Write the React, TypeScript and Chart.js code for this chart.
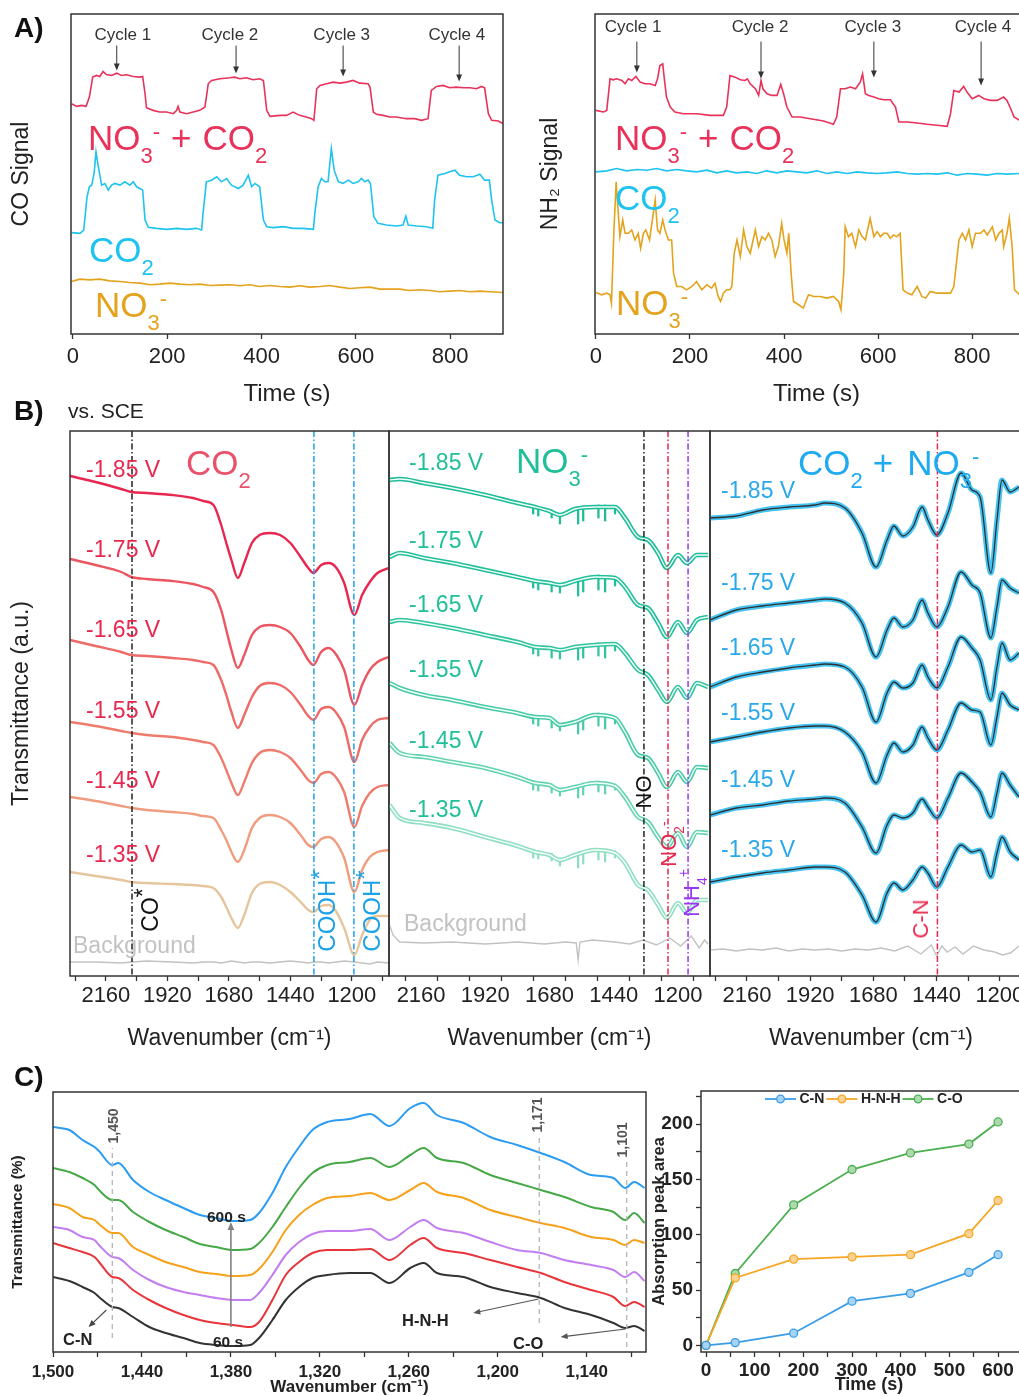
import React, { useEffect, useRef } from 'react';
import { Chart, registerables } from 'chart.js';

Chart.register(...registerables);

const FONT = '"Liberation Sans", Arial, Helvetica, sans-serif';
Chart.defaults.font.family = FONT;
Chart.defaults.color = '#222';

// ---------------- Panel A data ----------------
const timeTicks = [0, 200, 400, 600, 800];
const cycleNames = ['Cycle 1', 'Cycle 2', 'Cycle 3', 'Cycle 4'];

// CO signal (arbitrary units)
const coTimeRed = [-3,8,18,28,35,42,50,57,64,71,82,93,103,114,128,142,148,153,156,170,184,199,213,220,223,227,241,255,269,280,287,294,312,333,343,354,368,382,396,404,411,418,439,453,467,481,495,506,511,517,524,538,552,566,580,594,608,626,630,637,644,658,672,686,707,725,739,753,760,771,785,799,813,828,842,856,866,873,881,888,902,912];
const coSignalRed = [693,685,688,685,713,773,778,775,790,781,778,785,778,780,775,773,775,723,681,673,668,668,663,673,685,668,663,668,673,683,753,763,768,771,773,768,771,765,768,763,673,655,658,658,668,658,653,648,643,738,748,753,758,755,758,763,755,753,743,668,661,658,653,653,648,648,643,648,733,745,748,741,743,741,741,738,745,741,663,643,641,633];
const coTimeCyan = [-3,15,23,30,35,40,45,49,54,61,68,75,82,89,100,110,121,128,135,142,148,153,160,177,199,220,241,262,273,276,283,294,305,315,326,336,351,361,372,379,386,396,404,411,425,446,467,488,510,513,520,527,534,541,548,554,563,573,584,594,605,612,619,626,631,638,647,665,686,700,706,711,729,750,763,767,774,789,799,810,820,835,849,863,873,883,888,895,905,912];
const coSignalCyan = [305,303,313,413,443,448,483,548,503,448,453,433,448,453,448,458,448,458,443,438,433,343,321,318,315,318,315,318,313,363,458,463,473,458,468,448,438,448,478,443,453,443,343,323,320,323,318,318,315,363,443,468,458,458,558,493,458,453,463,453,458,468,458,463,453,353,333,328,325,328,355,328,325,323,318,403,478,483,488,493,478,473,473,481,463,463,403,343,335,335];
const coTimeOrange = [-3,15,36,57,78,100,121,142,163,185,206,227,248,269,291,312,333,354,375,396,418,439,460,481,502,524,545,566,587,608,630,651,672,693,714,736,757,778,799,820,842,863,884,912];
const coSignalOrange = [158,165,163,165,160,158,155,153,148,150,153,150,148,150,146,147,148,145,148,143,146,143,141,145,141,143,146,141,137,139,141,135,135,135,131,133,131,127,129,131,127,129,127,125];
const coCycleTimes = [93, 346, 573, 819];
const coCycleTips = [793, 784, 775, 760];
const coCycleLabelTimes = [106, 333, 570, 814];

// NH2 signal (arbitrary units)
const nhTimeRed = [0,16,23,30,37,44,55,62,69,76,85,94,104,115,126,131,136,142,145,150,158,168,186,215,243,271,278,285,296,307,317,322,328,339,346,351,355,364,374,385,393,399,406,417,434,456,484,505,512,520,530,541,552,562,567,573,580,591,601,612,626,637,644,662,683,704,725,747,754,761,772,782,789,800,814,825,839,853,867,874,882,889,901];
const nhSignalRed = [673,668,673,768,765,768,763,753,768,763,775,758,753,753,748,768,808,813,773,713,683,668,663,663,658,658,683,778,773,765,763,768,753,738,718,763,738,723,718,718,751,723,683,653,653,648,641,631,653,738,738,743,738,758,783,723,718,713,708,705,705,683,638,638,635,631,628,625,663,733,728,745,728,708,718,708,703,703,713,703,678,653,643];
const nhTimeCyan = [0,23,44,65,87,108,129,150,172,193,214,236,257,278,299,321,342,363,385,406,427,448,470,491,512,534,555,576,598,619,640,662,683,704,725,747,768,789,810,832,853,874,901];
const nhSignalCyan = [488,491,498,491,495,493,498,491,495,491,488,493,485,491,485,488,483,491,485,491,488,485,491,483,488,483,488,485,483,485,488,483,481,483,481,485,478,483,481,478,483,481,483];
const nhTimeOrange = [0,12,23,30,33,38,43,45,51,57,62,69,76,83,90,95,101,106,114,121,126,131,136,142,147,154,161,165,172,182,193,204,214,225,236,246,253,260,265,271,278,285,289,294,300,307,314,321,328,339,346,353,360,367,374,381,388,395,400,406,410,415,420,431,441,452,463,477,491,505,516,521,527,530,537,544,552,559,566,573,583,591,598,605,612,619,626,633,640,647,653,662,672,683,693,701,711,725,740,754,761,768,772,779,786,793,800,807,818,825,832,843,850,857,864,867,874,879,885,890,901];
const nhSignalOrange = [125,118,123,118,93,303,458,413,293,343,303,303,313,283,303,258,303,313,283,353,403,313,303,343,313,283,283,183,143,143,133,143,158,133,148,138,153,113,98,123,133,133,143,243,283,233,313,263,243,313,263,293,283,303,283,233,263,333,283,243,303,183,98,88,78,118,113,113,108,113,98,73,183,323,293,303,263,313,293,283,348,293,308,293,303,303,288,298,293,303,133,123,118,143,113,108,128,123,123,123,143,233,283,303,283,313,263,303,303,313,298,323,283,303,313,263,303,348,263,133,118];
const nhCycleTimes = [87, 351, 591, 819];
const nhCycleTips = [787, 769, 772, 748];
const nhCycleLabelTimes = [79, 349, 589, 823];

// ---------------- Panel B data ----------------
const potentials = ['-1.85 V', '-1.75 V', '-1.65 V', '-1.55 V', '-1.45 V', '-1.35 V'];
const wnTicksB = [2280, 2160, 2040, 1920, 1800, 1680, 1560, 1440, 1320, 1200, 1080];
const wnLabelsB = [2160, 1920, 1680, 1440, 1200];

// CO2 only
const wnCO2 = [2300,2200,2100,2060,2000,1900,1820,1780,1740,1710,1690,1670,1645,1620,1590,1560,1520,1480,1440,1400,1370,1350,1320,1290,1260,1230,1190,1160,1130,1100,1056];
const co2At185 = [500,494,487,484,483,481,478,475,471,451,433,416,398,413,433,441,443,441,433,419,408,403,411,413,408,393,361,381,394,403,408];
const co2At175 = [417,411,404,399,397,395,392,389,384,366,346,326,308,321,341,349,351,349,343,329,316,311,324,328,321,306,271,291,306,314,319];
const co2At165 = [336,330,324,321,320,318,316,314,311,296,281,264,248,261,279,290,293,291,284,271,260,256,267,269,263,249,214,236,249,256,258];
const co2At155 = [254,250,245,243,241,239,236,234,231,218,206,193,181,194,213,223,226,224,218,206,196,193,202,204,198,184,149,170,183,189,191];
const co2At145 = [179,175,170,168,166,164,162,160,158,146,136,124,114,126,148,158,161,159,153,141,131,129,137,139,133,118,84,106,119,124,126];
const co2At135 = [104,100,96,94,93,92,91,90,88,79,69,58,48,61,83,92,94,91,84,74,66,64,70,71,64,48,21,41,56,60,60];
const co2Background = [14,14,13,14,15,14,13,14,14,13,14,15,14,13,14,14,13,14,15,14,13,14,14,13,14,15,14,13,12,14,13];

// NO3- only
const wnNO3 = [2278,2240,2150,2044,1921,1800,1734,1680,1641,1585,1510,1435,1398,1349,1312,1274,1241,1200,1166,1129,1087];
const no3At185 = [496,497,493,488,481,473,469,465,461,467,469,469,458,439,436,423,408,421,413,421,421];
const no3At175 = [419,423,418,413,406,399,395,393,391,395,399,398,389,371,368,353,339,354,343,356,359];
const no3At165 = [354,356,353,348,341,334,329,328,326,329,331,332,323,306,301,286,274,289,278,293,289];
const no3At155 = [293,288,281,276,269,263,259,258,251,254,261,258,244,221,218,203,189,204,194,209,208];
const no3At145 = [233,223,219,214,208,199,193,191,186,189,193,190,179,159,154,139,129,143,129,144,143];
const no3At135 = [171,158,153,148,139,130,124,121,116,121,126,123,113,91,86,71,58,73,63,76,76];
const wnNO3Bg = [2278,2265,2240,2150,2044,1921,1800,1700,1620,1580,1573,1566,1520,1435,1380,1330,1280,1230,1190,1150,1120,1100,1087];
const no3Background = [51,41,34,33,34,32,34,32,34,33,16,34,36,34,32,36,31,38,30,40,28,36,32];
const no3SpikeWn = [1741,1722,1672,1641,1573,1554,1497,1472,1435];
const no3SpikeLo185 = [462,460,458,452,452,455,458,455,462];
const no3SpikeHi185 = [470,468,466,462,469,468,471,471,470];
const no3SpikeLo175 = [388,386,384,383,380,384,386,384,390];
const no3SpikeHi175 = [396,395,393,392,396,398,401,400,398];
const no3SpikeLo165 = [322,320,318,317,316,318,320,318,325];
const no3SpikeHi165 = [330,329,328,327,330,331,333,333,332];
const no3SpikeLo155 = [252,250,248,245,242,246,250,247,252];
const no3SpikeHi155 = [261,259,257,252,255,258,263,262,259];
const no3SpikeLo145 = [186,185,183,180,178,181,184,182,186];
const no3SpikeHi145 = [195,193,192,188,190,193,195,194,192];
const no3SpikeLo135 = [118,117,115,110,108,112,116,114,118];
const no3SpikeHi135 = [127,125,123,118,121,124,127,126,125];

// CO2 + NO3-
const wnMix = [2300,2200,2100,2000,1900,1864,1788,1723,1670,1628,1602,1568,1530,1495,1473,1439,1397,1347,1306,1275,1234,1211,1192,1161,1127];
const mixAt185 = [458,460,466,469,471,473,468,443,409,436,450,440,449,469,456,441,463,503,486,479,403,456,496,484,489];
const mixAt175 = [356,366,370,373,376,377,373,353,319,346,358,349,356,376,363,349,369,404,391,383,338,369,396,388,383];
const mixAt165 = [289,299,304,308,311,312,309,289,254,283,294,288,293,311,299,288,309,339,328,316,276,309,333,316,323];
const mixAt155 = [234,239,244,248,250,250,244,224,193,221,233,224,231,249,238,226,246,273,266,264,231,259,283,271,266];
const mixAt145 = [161,168,171,175,177,178,173,149,123,151,161,158,163,177,169,158,178,203,194,184,159,183,203,191,179];
const mixAt135 = [94,99,103,106,109,109,104,81,54,83,93,86,96,109,103,89,109,131,124,126,99,123,139,124,116];
const wnMixBg = [2300,2250,2200,2150,2100,2050,2000,1950,1900,1850,1800,1750,1700,1650,1600,1550,1500,1460,1440,1420,1400,1370,1340,1300,1260,1220,1190,1160,1127];
const mixBackground = [26,27,25,27,26,28,25,27,26,27,25,27,26,28,25,30,22,31,20,30,24,29,22,30,26,24,21,23,30];

// ---------------- Panel C data ----------------
const wnC = [1500,1489,1480,1472,1469,1460,1456,1446,1435,1424,1412,1401,1390,1379,1367,1361,1352,1343,1334,1325,1315,1300,1286,1273,1259,1250,1241,1223,1205,1187,1171,1155,1137,1122,1114,1108,1101];
const trans600 = [225,222,212,205,201,187,189,172,160,152,144,137,134,131,132,139,159,185,205,222,230,233,238,226,244,249,237,229,215,207,199,190,177,174,164,170,164];
const trans540 = [184,180,174,167,162,152,152,140,130,122,115,108,105,102,103,109,125,145,164,179,187,190,194,185,197,204,194,189,177,169,162,155,145,140,132,139,129];
const trans420 = [148,144,135,132,128,119,119,105,97,90,85,80,78,76,77,83,100,122,137,147,154,156,159,152,162,169,160,154,142,135,129,124,115,112,107,112,109];
const trans300 = [125,122,115,112,107,95,94,82,72,65,60,57,54,52,52,59,77,97,110,118,121,121,123,112,125,132,124,119,110,102,99,92,87,82,75,80,71];
const trans180 = [109,104,100,95,90,75,74,62,52,44,37,32,29,27,25,30,52,77,90,99,102,102,103,92,107,114,104,99,92,85,79,70,62,55,46,50,45];
const trans60 = [75,71,65,59,55,45,44,35,25,19,14,9,7,6,7,14,32,52,65,74,77,79,79,69,84,89,79,75,65,59,54,44,37,29,24,26,21];
const wnTicksC = [1500,1470,1440,1410,1380,1350,1320,1290,1260,1230,1200,1170,1140,1110];
const wnMajorC = [1500,1440,1380,1320,1260,1200,1140];
const wnMajorLabelsC = ['1,500','1,440','1,380','1,320','1,260','1,200','1,140'];

const peakTimes = [0, 60, 180, 300, 420, 540, 600];
const peakCN = [0, 2.5, 11, 40, 47, 66, 82];
const peakHNH = [0, 61, 78, 80, 82, 101, 131];
const peakCO = [0, 65, 127, 159, 174, 182, 202];
const peakNames = ['C-N', 'H-N-H', 'C-O'];
const peakTimeTicks = [0,50,100,150,200,250,300,350,400,450,500,550,600,650];
const peakTimeLabels = [0,100,200,300,400,500,600];
const peakAreaTicks = [0,25,50,75,100,125,150,175,200,225];
const peakAreaLabels = [0,50,100,150,200];

// ---------------- colours ----------------
const RED = '#e8325a';
const CYAN = '#1ec3f0';
const ORANGE = '#e4a31d';
const B1_COLORS = ['#e8264f', '#ec5661', '#ee6a66', '#ef7b6c', '#f09c7e', '#e6c59d'];
const B1_LABEL = '#e8294f';
const B2_COLORS = ['#1cbd97', '#22c09a', '#2fc49e', '#47cba6', '#63d3b0', '#8fdfc2'];
const B2_LABEL = '#1fbf99';
const B3_CYAN = '#45c3f3';
const B3_LABEL = '#2aa8ea';
const GRAY_BG = '#c2c2c2';
const C_COLORS = ['#2b9cf2', '#47a847', '#f6a11a', '#c27df0', '#e8353b', '#333333'];
const PEAK_COLORS = ['#3a9de8', '#f5a623', '#4caf50'];
const PEAK_FILLS = ['#a6d3f6', '#fbd293', '#acdaae'];
const DASHDOT = [6, 2.5, 1.5, 2.5];

// ---------------- helpers ----------------
const pts = (xs: number[], ys: number[]) => xs.map((x, i) => ({ x, y: ys[i] }));

const line = (xs: number[], ys: number[], color: string, width: number, extra: any = {}) => ({
  type: 'line',
  data: pts(xs, ys),
  borderColor: color,
  backgroundColor: color,
  borderWidth: width,
  pointRadius: 0,
  fill: false,
  tension: 0,
  ...extra,
});

const spikes = (xs: number[], lo: number[], hi: number[], color: string) => ({
  type: 'bar',
  data: xs.map((x, i) => ({ x, y: [lo[i], hi[i]] })),
  backgroundColor: color,
  barThickness: 1.6,
  grouped: false,
  order: 2,
});

function drawDecor(chart: any, cfg: any) {
  const { ctx, chartArea: ca } = chart;
  const sx = chart.scales.x;
  const sy = chart.scales.y;
  ctx.save();
  (cfg.vlines || []).forEach((v: any) => {
    const px = sx.getPixelForValue(v.x);
    const y0 = v.y0 == null ? ca.top : sy.getPixelForValue(v.y0);
    const y1 = v.y1 == null ? ca.bottom : sy.getPixelForValue(v.y1);
    ctx.beginPath();
    ctx.setLineDash(v.dash || []);
    ctx.strokeStyle = v.color;
    ctx.lineWidth = v.width || 1.5;
    ctx.moveTo(px, y0);
    ctx.lineTo(px, y1);
    ctx.stroke();
  });
  ctx.setLineDash([]);
  (cfg.arrows || []).forEach((a: any) => {
    const x0 = sx.getPixelForValue(a.x0), y0 = sy.getPixelForValue(a.y0);
    const x1 = sx.getPixelForValue(a.x1), y1 = sy.getPixelForValue(a.y1);
    const ang = Math.atan2(y1 - y0, x1 - x0);
    const hl = a.head || 7;
    const hw = hl * 0.42;
    const c = Math.cos(ang), s = Math.sin(ang);
    ctx.strokeStyle = a.color;
    ctx.fillStyle = a.color;
    ctx.lineWidth = a.width || 1;
    ctx.beginPath();
    ctx.moveTo(x0, y0);
    ctx.lineTo(x1 - c * hl * 0.7, y1 - s * hl * 0.7);
    ctx.stroke();
    ctx.beginPath();
    ctx.moveTo(x1, y1);
    ctx.lineTo(x1 - c * hl + s * hw, y1 - s * hl - c * hw);
    ctx.lineTo(x1 - c * hl - s * hw, y1 - s * hl + c * hw);
    ctx.closePath();
    ctx.fill();
  });
  (cfg.texts || []).forEach((t: any) => {
    ctx.font = t.font;
    ctx.fillStyle = t.color;
    ctx.textAlign = 'center';
    ctx.textBaseline = 'middle';
    ctx.fillText(t.text, sx.getPixelForValue(t.x), sy.getPixelForValue(t.y));
  });
  if (cfg.legend) {
    const L = cfg.legend;
    ctx.font = L.font;
    ctx.textAlign = 'left';
    ctx.textBaseline = 'middle';
    let x = L.x;
    const y = L.y;
    L.items.forEach((it: any) => {
      ctx.strokeStyle = it.color;
      ctx.lineWidth = 1.8;
      ctx.beginPath();
      ctx.moveTo(x, y);
      ctx.lineTo(x + L.lineLen, y);
      ctx.stroke();
      ctx.beginPath();
      ctx.arc(x + L.lineLen / 2, y, 3.8, 0, Math.PI * 2);
      ctx.fillStyle = it.fill;
      ctx.fill();
      ctx.lineWidth = 1.3;
      ctx.stroke();
      x += L.lineLen + 3.5;
      ctx.fillStyle = '#222';
      ctx.fillText(it.label, x, y + 0.5);
      x += ctx.measureText(it.label).width + 2;
    });
  }
  if (cfg.frame) {
    ctx.strokeStyle = '#333';
    ctx.lineWidth = cfg.frame;
    ctx.strokeRect(ca.left, ca.top, ca.right - ca.left, ca.bottom - ca.top);
  }
  ctx.restore();
}

const mkDecor = (cfg: any) => ({
  id: 'decor',
  afterDatasetsDraw(chart: any) {
    drawDecor(chart, cfg);
  },
});

const xAxis = (o: any) => ({
  type: 'linear',
  min: o.min,
  max: o.max,
  reverse: !!o.reverse,
  offset: false,
  afterBuildTicks: (s: any) => {
    s.ticks = o.ticks.map((v: number) => ({ value: v }));
  },
  afterFit: (s: any) => {
    s.height = o.height;
  },
  ticks: {
    autoSkip: false,
    maxRotation: 0,
    minRotation: 0,
    padding: o.pad,
    color: '#222',
    font: o.font,
    callback: o.label,
  },
  grid: { display: true, drawOnChartArea: false, drawTicks: true, tickLength: 5, tickWidth: 1.3, tickColor: '#333' },
  border: { display: false },
  title: { display: true, text: o.title, color: '#222', font: o.titleFont, padding: { top: 0, bottom: o.titlePad } },
});

const yAxis = (o: any) => {
  const ax: any = {
    type: 'linear',
    min: o.min,
    max: o.max,
    display: o.display === undefined ? true : o.display,
    border: { display: false },
    ticks: { display: false },
    grid: { display: false },
    title: o.title
      ? { display: true, text: o.title, color: '#222', font: o.titleFont, padding: { top: o.titlePad, bottom: 0 } }
      : { display: false },
  };
  if (typeof o.width === 'number') {
    ax.afterFit = (s: any) => {
      s.width = o.width;
    };
  }
  if (o.ticks) {
    ax.afterBuildTicks = (s: any) => {
      s.ticks = o.ticks.map((v: number) => ({ value: v }));
    };
    ax.ticks = { display: true, autoSkip: false, padding: o.pad, color: '#222', font: o.font, callback: o.label };
    ax.grid = { display: true, drawOnChartArea: false, drawTicks: true, tickLength: 5, tickWidth: 1.3, tickColor: '#333' };
  }
  return ax;
};

const common = (padding: any, scales: any) => ({
  responsive: false,
  maintainAspectRatio: false,
  animation: false,
  events: [],
  layout: { padding },
  plugins: { legend: { display: false }, tooltip: { enabled: false } },
  scales,
});

const timeLabel = (v: number) => (timeTicks.includes(v) ? String(v) : '');
const wnLabelB = (v: number) => (wnLabelsB.includes(v) ? String(v) : '');

// ---------------- chart configs ----------------
function cfgA(which: 'co' | 'nh') {
  const co = which === 'co';
  const times = co ? coCycleTimes : nhCycleTimes;
  const tips = co ? coCycleTips : nhCycleTips;
  const labelTimes = co ? coCycleLabelTimes : nhCycleLabelTimes;
  const top = co ? 868 : 880;
  const labelY = co ? 898 : 922;
  const datasets = co
    ? [
        line(coTimeRed, coSignalRed, RED, 1.6),
        line(coTimeCyan, coSignalCyan, CYAN, 1.6),
        line(coTimeOrange, coSignalOrange, ORANGE, 1.6),
      ]
    : [
        line(nhTimeRed, nhSignalRed, RED, 1.6),
        line(nhTimeCyan, nhSignalCyan, CYAN, 1.6),
        line(nhTimeOrange, nhSignalOrange, ORANGE, 1.6),
      ];
  return {
    type: 'line',
    data: { datasets },
    options: common(
      co ? { top: 14, right: 17, left: 0, bottom: 0 } : { top: 14, right: 22, left: 0, bottom: 0 },
      {
        x: xAxis({
          min: co ? -4 : -2,
          max: co ? 912 : 940,
          ticks: timeTicks,
          label: timeLabel,
          height: 76,
          pad: 5,
          font: { size: 22 },
          title: 'Time (s)',
          titleFont: { size: 24 },
          titlePad: 1,
        }),
        y: yAxis({
          min: 0,
          max: 963,
          width: co ? 71 : 85,
          title: co ? 'CO Signal' : 'NH\u2082 Signal',
          titleFont: { size: 23 },
          titlePad: co ? 8 : 27,
        }),
      }
    ),
    plugins: [
      mkDecor({
        frame: 1.5,
        arrows: times.map((t, i) => ({ x0: t, y0: top, x1: t, y1: tips[i], color: '#333', width: 1, head: 7 })),
        texts: labelTimes.map((t, i) => ({ x: t, y: labelY, text: cycleNames[i], font: `17px ${FONT}`, color: '#333' })),
      }),
    ],
  };
}

function cfgB1() {
  const spectra = [co2At185, co2At175, co2At165, co2At155, co2At145, co2At135];
  const datasets: any[] = spectra.map((s, i) =>
    line(wnCO2, s, B1_COLORS[i], 2.4, { cubicInterpolationMode: 'monotone' })
  );
  datasets.push(line(wnCO2, co2Background, GRAY_BG, 1.4));
  return {
    type: 'line',
    data: { datasets },
    options: common({ top: 6, right: 11, left: 0, bottom: 0 }, {
      x: xAxis({
        min: 1055, max: 2300, reverse: true, ticks: wnTicksB, label: wnLabelB, height: 79, pad: 2,
        font: { size: 22 }, title: 'Wavenumber (cm\u207B\u00B9)', titleFont: { size: 23 }, titlePad: 3,
      }),
      y: yAxis({ min: 0, max: 545, width: 70, title: 'Transmittance (a.u.)', titleFont: { size: 23 }, titlePad: 8 }),
    }),
    plugins: [
      mkDecor({
        frame: 1.5,
        vlines: [
          { x: 2058, color: '#222', dash: DASHDOT, width: 1.5 },
          { x: 1348, color: '#1ba1e6', dash: DASHDOT, width: 1.5 },
          { x: 1192, color: '#1ba1e6', dash: DASHDOT, width: 1.5 },
        ],
      }),
    ],
  };
}

function cfgB2() {
  const spectra = [no3At185, no3At175, no3At165, no3At155, no3At145, no3At135];
  const lows = [no3SpikeLo185, no3SpikeLo175, no3SpikeLo165, no3SpikeLo155, no3SpikeLo145, no3SpikeLo135];
  const highs = [no3SpikeHi185, no3SpikeHi175, no3SpikeHi165, no3SpikeHi155, no3SpikeHi145, no3SpikeHi135];
  const datasets: any[] = [];
  spectra.forEach((s, i) => {
    datasets.push(line(wnNO3, s, 'rgba(255,255,255,0.95)', 1.4, { cubicInterpolationMode: 'monotone', order: 0 }));
    datasets.push(line(wnNO3, s, B2_COLORS[i], 4.6, { cubicInterpolationMode: 'monotone', order: 1 }));
    datasets.push(spikes(no3SpikeWn, lows[i], highs[i], B2_COLORS[i]));
  });
  datasets.push(line(wnNO3Bg, no3Background, GRAY_BG, 1.4, { order: 3 }));
  return {
    type: 'line',
    data: { datasets },
    options: common({ top: 6, right: 10, left: 9, bottom: 0 }, {
      x: xAxis({
        min: 1080, max: 2280, reverse: true, ticks: wnTicksB, label: wnLabelB, height: 79, pad: 2,
        font: { size: 22 }, title: 'Wavenumber (cm\u207B\u00B9)', titleFont: { size: 23 }, titlePad: 3,
      }),
      y: yAxis({ min: 0, max: 545, display: false }),
    }),
    plugins: [
      mkDecor({
        frame: 1.5,
        vlines: [
          { x: 1327, color: '#222', dash: DASHDOT, width: 1.5 },
          { x: 1237, color: '#e8294f', dash: DASHDOT, width: 1.5 },
          { x: 1162, color: '#9b35f5', dash: DASHDOT, width: 1.5 },
        ],
      }),
    ],
  };
}

function cfgB3() {
  const spectra = [mixAt185, mixAt175, mixAt165, mixAt155, mixAt145, mixAt135];
  const datasets: any[] = [];
  spectra.forEach((s) => {
    datasets.push(line(wnMix, s, '#303030', 1.3, { cubicInterpolationMode: 'monotone', order: 0 }));
    datasets.push(line(wnMix, s, B3_CYAN, 5.2, { cubicInterpolationMode: 'monotone', order: 1 }));
  });
  datasets.push(line(wnMixBg, mixBackground, GRAY_BG, 1.4, { order: 2 }));
  return {
    type: 'line',
    data: { datasets },
    options: common({ top: 6, right: 13, left: 10, bottom: 0 }, {
      x: xAxis({
        min: 1078, max: 2300, reverse: true, ticks: wnTicksB, label: wnLabelB, height: 79, pad: 2,
        font: { size: 22 }, title: 'Wavenumber (cm\u207B\u00B9)', titleFont: { size: 23 }, titlePad: 3,
      }),
      y: yAxis({ min: 0, max: 545, display: false }),
    }),
    plugins: [
      mkDecor({
        frame: 1.5,
        vlines: [{ x: 1437, color: '#e8294f', dash: DASHDOT, width: 1.5 }],
      }),
    ],
  };
}

function cfgC1() {
  const series = [trans600, trans540, trans420, trans300, trans180, trans60];
  const datasets = series.map((s, i) => line(wnC, s, C_COLORS[i], 2, { cubicInterpolationMode: 'monotone' }));
  return {
    type: 'line',
    data: { datasets },
    options: common({ top: 32, right: 14, left: 0, bottom: 0 }, {
      x: xAxis({
        min: 1100, max: 1500, reverse: true, ticks: wnTicksC,
        label: (v: number) => {
          const i = wnMajorC.indexOf(v);
          return i >= 0 ? wnMajorLabelsC[i] : '';
        },
        height: 44, pad: 5, font: { size: 17, weight: 'bold' },
        title: 'Wavenumber (cm\u207B\u00B9)', titleFont: { size: 17, weight: 'bold', lineHeight: 1 }, titlePad: 0,
      }),
      y: yAxis({ min: 0, max: 260, width: 53, title: 'Transmittance (%)', titleFont: { size: 15.5, weight: 'bold' }, titlePad: 8 }),
    }),
    plugins: [
      mkDecor({
        frame: 1.5,
        vlines: [
          { x: 1460, y0: 14, y1: 204, color: '#b5b5b5', dash: [5, 4], width: 1.3 },
          { x: 1172, y0: 29, y1: 217, color: '#b5b5b5', dash: [5, 4], width: 1.3 },
          { x: 1113, y0: 5, y1: 192, color: '#b5b5b5', dash: [5, 4], width: 1.3 },
        ],
        arrows: [
          { x0: 1380, y0: 25, x1: 1380, y1: 130, color: '#808080', width: 1.6, head: 8 },
          { x0: 1172.5, y0: 53, x1: 1216.5, y1: 39, color: '#555', width: 1.1, head: 7 },
          { x0: 1113.7, y0: 23, x1: 1157.6, y1: 15, color: '#555', width: 1.1, head: 7 },
          { x0: 1464, y0: 42, x1: 1476, y1: 25, color: '#444', width: 1.1, head: 7 },
        ],
      }),
    ],
  };
}

function cfgC2() {
  const series = [peakCN, peakHNH, peakCO];
  const datasets = series.map((s, i) =>
    line(peakTimes, s, PEAK_COLORS[i], 1.8, {
      label: peakNames[i],
      pointRadius: 4,
      pointBorderWidth: 1.3,
      pointBackgroundColor: PEAK_FILLS[i],
      pointBorderColor: PEAK_COLORS[i],
    })
  );
  return {
    type: 'line',
    data: { datasets },
    options: common({ top: 31, right: 13, left: 0, bottom: 0 }, {
      x: xAxis({
        min: -10.3, max: 680, ticks: peakTimeTicks,
        label: (v: number) => (peakTimeLabels.includes(v) ? String(v) : ''),
        height: 44, pad: 2, font: { size: 19, weight: 'bold' },
        title: 'Time (s)', titleFont: { size: 18, weight: 'bold' }, titlePad: 0,
      }),
      y: yAxis({
        min: -6, max: 230, width: 51, ticks: peakAreaTicks,
        label: (v: number) => (peakAreaLabels.includes(v) ? String(v) : ''),
        pad: 3, font: { size: 19, weight: 'bold' },
        title: 'Absorption peak area', titleFont: { size: 16.5, weight: 'bold' }, titlePad: 0,
      }),
    }),
    plugins: [
      mkDecor({
        frame: 1.5,
        legend: {
          x: 115,
          y: 39,
          lineLen: 31,
          font: `bold 14px ${FONT}`,
          items: peakNames.map((n, i) => ({ label: n, color: PEAK_COLORS[i], fill: PEAK_FILLS[i] })),
        },
      }),
    ],
  };
}

// ---------------- React components ----------------
function ChartCanvas({ box, make }: { box: number[]; make: () => any }) {
  const ref = useRef<HTMLCanvasElement | null>(null);
  useEffect(() => {
    const chart = new Chart(ref.current as HTMLCanvasElement, make());
    return () => chart.destroy();
  }, []);
  return (
    <canvas
      ref={ref}
      width={box[2]}
      height={box[3]}
      style={{ position: 'absolute', left: box[0], top: box[1], width: box[2], height: box[3] }}
    />
  );
}

const Sub = ({ children }: any) => (
  <span style={{ fontSize: '0.63em', position: 'relative', top: '0.58em' }}>{children}</span>
);
const Sup = ({ children, shift = -0.5 }: any) => (
  <span style={{ fontSize: '0.63em', position: 'relative', top: `${shift}em` }}>{children}</span>
);
const Gap = ({ w }: { w: number }) => <span style={{ display: 'inline-block', width: w }} />;

function Label({ x, base, size, color, bold, children }: any) {
  return (
    <div
      style={{
        position: 'absolute',
        left: x,
        top: base - 0.8465 * size,
        fontSize: size,
        lineHeight: `${size}px`,
        color,
        fontFamily: FONT,
        fontWeight: bold ? 700 : 400,
        whiteSpace: 'nowrap',
      }}
    >
      {children}
    </div>
  );
}

function RotLabel({ cx, cy, size, color, bold, children }: any) {
  return (
    <div
      style={{
        position: 'absolute',
        left: cx,
        top: cy,
        transform: 'translate(-50%, -50%) rotate(-90deg)',
        fontSize: size,
        lineHeight: `${size}px`,
        color,
        fontFamily: FONT,
        fontWeight: bold ? 700 : 400,
        whiteSpace: 'nowrap',
      }}
    >
      {children}
    </div>
  );
}

const b1Bases = [477, 557, 637, 718, 788, 862];
const b2Bases = [470, 548, 612, 677, 748, 817];
const b3Bases = [498, 590, 655, 720, 787, 857];

export default function App() {
  return (
    <div
      style={{
        position: 'absolute',
        left: 0,
        top: 0,
        width: 1019,
        height: 1396,
        overflow: 'hidden',
        background: '#fff',
        fontFamily: FONT,
      }}
    >
      <ChartCanvas box={[0, 0, 520, 410]} make={() => cfgA('co')} />
      <ChartCanvas box={[510, 0, 550, 410]} make={() => cfgA('nh')} />
      <ChartCanvas box={[0, 425, 400, 630]} make={cfgB1} />
      <ChartCanvas box={[380, 425, 340, 630]} make={cfgB2} />
      <ChartCanvas box={[700, 425, 345, 630]} make={cfgB3} />
      <ChartCanvas box={[0, 1060, 660, 336]} make={cfgC1} />
      <ChartCanvas box={[650, 1060, 400, 336]} make={cfgC2} />

      {/* panel letters */}
      <Label x={14} base={38} size={28} color="#111" bold>A)</Label>
      <Label x={14} base={421} size={28} color="#111" bold>B)</Label>
      <Label x={14} base={1087} size={28} color="#111" bold>C)</Label>

      {/* Panel A labels */}
      <Label x={88} base={150} size={35} color={RED}>
        NO<Sub>3</Sub><Sup>-</Sup><Gap w={11} />+<Gap w={11} />CO<Sub>2</Sub>
      </Label>
      <Label x={89} base={262} size={35} color={CYAN}>
        CO<Sub>2</Sub>
      </Label>
      <Label x={95} base={317} size={35} color={ORANGE}>
        NO<Sub>3</Sub><Sup>-</Sup>
      </Label>
      <Label x={615} base={150} size={35} color={RED}>
        NO<Sub>3</Sub><Sup>-</Sup><Gap w={11} />+<Gap w={11} />CO<Sub>2</Sub>
      </Label>
      <Label x={615} base={210} size={35} color={CYAN}>
        CO<Sub>2</Sub>
      </Label>
      <Label x={616} base={315} size={35} color={ORANGE}>
        NO<Sub>3</Sub><Sup>-</Sup>
      </Label>

      {/* Panel B1 labels */}
      <Label x={68} base={418} size={21} color="#222">vs. SCE</Label>
      <Label x={186} base={475} size={35} color="#e9526c">
        CO<Sub>2</Sub>
      </Label>
      {potentials.map((p, i) => (
        <Label key={'b1' + i} x={86} base={b1Bases[i]} size={23} color={B1_LABEL}>{p}</Label>
      ))}
      <Label x={73} base={953} size={23} color={GRAY_BG}>Background</Label>
      <RotLabel cx={150} cy={910} size={23} color="#111">
        CO<span style={{ position: 'relative', top: '-0.3em' }}>*</span>
      </RotLabel>
      <RotLabel cx={327} cy={911} size={24} color="#1ba1e6">
        COOH<span style={{ position: 'relative', top: '-0.3em' }}>*</span>
      </RotLabel>
      <RotLabel cx={372} cy={911} size={24} color="#1ba1e6">
        COOH<span style={{ position: 'relative', top: '-0.3em' }}>*</span>
      </RotLabel>

      {/* Panel B2 labels */}
      <Label x={516} base={473} size={35} color={B2_LABEL}>
        NO<Sub>3</Sub><Sup>-</Sup>
      </Label>
      {potentials.map((p, i) => (
        <Label key={'b2' + i} x={409} base={b2Bases[i]} size={23} color={B2_LABEL}>{p}</Label>
      ))}
      <Label x={404} base={931} size={23} color={GRAY_BG}>Background</Label>
      <RotLabel cx={644} cy={792} size={22} color="#111">NO</RotLabel>
      <RotLabel cx={670} cy={844} size={22} color="#e8294f">
        NO<Sub>2</Sub><Sup>-</Sup>
      </RotLabel>
      <RotLabel cx={693} cy={893} size={22} color="#9b35f5">
        NH<Sub>4</Sub><Sup shift={-0.8}>+</Sup>
      </RotLabel>

      {/* Panel B3 labels */}
      <Label x={798} base={475} size={35} color="#1eaaf0">
        CO<Sub>2</Sub><Gap w={10} />+<Gap w={14} />NO<Sub>3</Sub><Sup>-</Sup>
      </Label>
      {potentials.map((p, i) => (
        <Label key={'b3' + i} x={721} base={b3Bases[i]} size={23} color={B3_LABEL}>{p}</Label>
      ))}
      <RotLabel cx={921} cy={919} size={22} color="#e8294f">C-N</RotLabel>

      {/* Panel C labels */}
      <Label x={207} base={1222} size={15.5} color="#222" bold>600 s</Label>
      <Label x={213} base={1347} size={15.5} color="#222" bold>60 s</Label>
      <Label x={402} base={1326} size={16.5} color="#222" bold>H-N-H</Label>
      <Label x={513} base={1349} size={16.5} color="#222" bold>C-O</Label>
      <Label x={63} base={1345} size={16.5} color="#222" bold>C-N</Label>
      <RotLabel cx={113} cy={1126} size={14} color="#555" bold>1,450</RotLabel>
      <RotLabel cx={537} cy={1115} size={14} color="#555" bold>1,171</RotLabel>
      <RotLabel cx={622} cy={1140} size={14} color="#555" bold>1,101</RotLabel>
    </div>
  );
}
